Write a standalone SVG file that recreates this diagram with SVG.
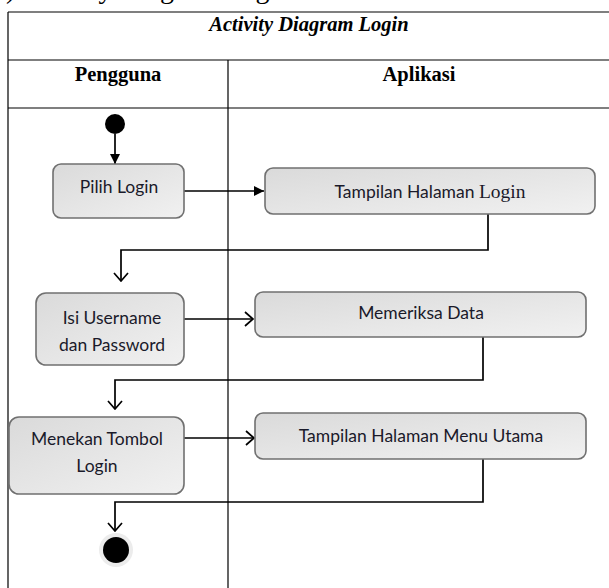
<svg xmlns="http://www.w3.org/2000/svg" width="609" height="588" viewBox="0 0 609 588">
<style>
.grid{stroke:#000;stroke-width:1.2;fill:none}
.hdr{font-family:"Liberation Serif","Times New Roman",serif;font-weight:bold;font-size:20.5px;fill:#000;text-anchor:middle}
.box{fill:url(#g);stroke:#707070;stroke-width:1.6}
.lbl{font-family:Lato,"Liberation Sans",sans-serif;font-size:17.5px;fill:#1a1a2a;text-anchor:middle}
.con{stroke:#000;stroke-width:1.7;fill:none}
</style>
<defs>
<linearGradient id="g" x1="0" y1="0" x2="1" y2="1">
<stop offset="0" stop-color="#dadada"/>
<stop offset="1" stop-color="#f1f1f1"/>
</linearGradient>
<marker id="fill" viewBox="0 0 10 10" refX="10" refY="5" markerWidth="10" markerHeight="10" markerUnits="userSpaceOnUse" orient="auto">
<path d="M0,0 L10,5 L0,10 Z" fill="#000"/>
</marker>
<marker id="open" viewBox="0 0 10 16" refX="9" refY="8" markerWidth="10" markerHeight="16" markerUnits="userSpaceOnUse" orient="auto">
<path d="M1,1 L9,8 L1,15" fill="none" stroke="#000" stroke-width="1.7"/>
</marker>
</defs>
<rect width="609" height="588" fill="#fff"/>
<text x="6" y="-2" font-family="Liberation Serif,serif" font-size="28" fill="#000">) Activity Diagram Login</text>
<g id="table">
<path class="grid" d="M8,12 H609 M8,12 V588 M8,60 H609 M8,108 H609 M228,60 V588"/>
<text class="hdr" x="309" y="31" font-style="italic">Activity Diagram Login</text>
<text class="hdr" x="118" y="81">Pengguna</text>
<text class="hdr" x="419" y="81">Aplikasi</text>
</g>
<g id="connectors">
<path class="con" d="M115,134 V164" marker-end="url(#fill)"/>
<path class="con" d="M184,191 H264" marker-end="url(#fill)"/>
<path class="con" d="M488,214 V250 H121 V281" marker-end="url(#open)"/>
<path class="con" d="M184,319 H253" marker-end="url(#open)"/>
<path class="con" d="M483,337 V380 H115 V409" marker-end="url(#open)"/>
<path class="con" d="M184,438 H254" marker-end="url(#open)"/>
<path class="con" d="M483,459 V502 H115 V531" marker-end="url(#open)"/>
</g>
<g id="start"><circle cx="115" cy="124" r="10" fill="#000"/></g>
<g id="pilih-login">
<rect class="box" x="53" y="164" width="131" height="54" rx="8"/>
<text class="lbl" x="119" y="193">Pilih Login</text>
</g>
<g id="tampilan-login">
<rect class="box" x="265" y="168" width="330" height="46" rx="8"/>
<text class="lbl" x="430" y="198">Tampilan Halaman <tspan font-family="Liberation Serif,serif" font-size="19.5">Login</tspan></text>
</g>
<g id="isi-username">
<rect class="box" x="36" y="293" width="148" height="72" rx="10"/>
<text class="lbl" x="112" y="324">Isi Username</text>
<text class="lbl" x="112" y="351">dan Password</text>
</g>
<g id="memeriksa">
<rect class="box" x="255" y="292" width="331" height="45" rx="8"/>
<text class="lbl" x="421" y="319">Memeriksa Data</text>
</g>
<g id="menekan">
<rect class="box" x="9" y="417" width="175" height="77" rx="10"/>
<text class="lbl" x="97" y="445">Menekan Tombol</text>
<text class="lbl" x="97" y="472">Login</text>
</g>
<g id="menu-utama">
<rect class="box" x="255" y="413" width="331" height="46" rx="8"/>
<text class="lbl" x="421" y="442">Tampilan Halaman Menu Utama</text>
</g>
<g id="end">
<circle cx="116" cy="550" r="17" fill="#ececec"/>
<circle cx="116" cy="550" r="13" fill="#000"/>
</g>
</svg>
